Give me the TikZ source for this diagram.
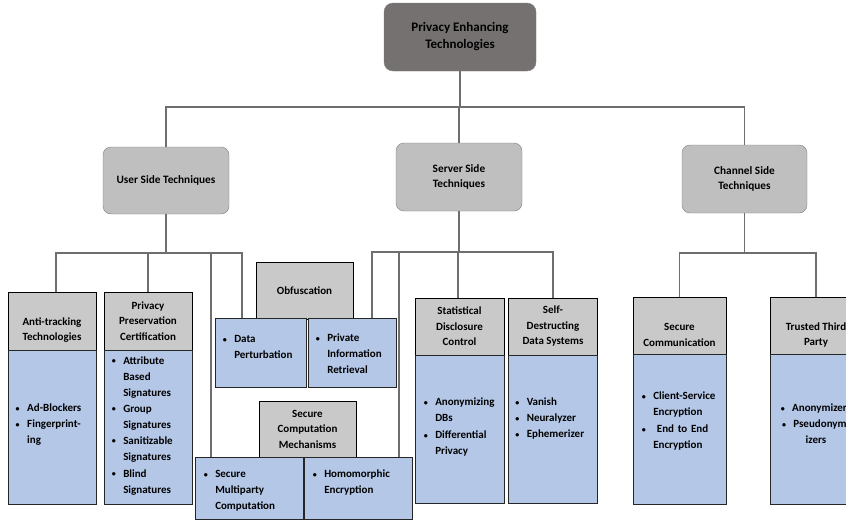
\documentclass[tikz,border=0pt]{standalone}
\usepackage{fontspec}
\usepackage{xcolor}
\setmainfont{Carlito}

\definecolor{lineg}{HTML}{6E6E6E}
\definecolor{rootg}{HTML}{767171}
\definecolor{sideg}{HTML}{BFBFBF}
\definecolor{sideedge}{HTML}{7F7F7F}
\definecolor{headg}{HTML}{C9C9C9}
\definecolor{bodyb}{HTML}{B4C7E7}

% bullet item, the text hangs beside the bullet
\newlength\bulw
\setlength\bulw{11.5pt}
\newcommand\bul{\raisebox{0.4pt}{\fontsize{8}{8}\selectfont\textbullet}}
\newcommand\itm[1]{\par\lineskip=0pt\noindent\makebox[\bulw][l]{\strut\bul}%
    \parbox[t]{\dimexpr\linewidth-\bulw\relax}{\strut#1\strut}}

\begin{document}
\begin{tikzpicture}[x=1pt,y=-1pt,
    conn/.style={draw=lineg, line width=1.6pt},
    petbox/.style={draw=sideedge, fill=rootg, rounded corners=9pt, align=center,
        minimum width=152pt, minimum height=68pt, font=\bfseries\fontsize{13}{17}\selectfont},
    sidebox/.style={draw=sideedge, fill=sideg, rounded corners=8pt, align=center,
        minimum width=126pt, minimum height=67pt, font=\bfseries\fontsize{11.3}{15.5}\selectfont},
    headbox/.style={draw=black, fill=headg, line width=0.9pt, align=center, inner sep=0pt,
        font=\bfseries\fontsize{11}{15.5}\selectfont},
    bodybox/.style={draw=black!85, fill=bodyb, line width=0.9pt, inner sep=0pt},
    bodytxt/.style={inner sep=0pt, align=left, anchor=north west, font=\bfseries\fontsize{11}{16}\selectfont}]
    \useasboundingbox (0,0) rectangle (846,522);

    % top levels
    \node[petbox] (pet) at (460,37) {Privacy Enhancing\\Technologies};
    \node[sidebox] (usr) at (166,180.5) {User Side Techniques};
    \node[sidebox, minimum height=68pt] (srv) at (459,177) {Server Side\\Techniques};
    \node[sidebox, minimum height=68pt, minimum width=125pt] (chn) at (744.5,179) {Channel Side\\Techniques};

    % user side
    \node[headbox, minimum width=88pt, minimum height=58pt] (atk) at (52,321) {\strut\\Anti-tracking\\Technologies};
    \node[bodybox, minimum width=88pt, minimum height=154pt] (atkb) at (52,427) {};
    \node[bodytxt, text width=76pt] (atkt) at ([xshift=8pt,yshift=-46pt]atkb.north west)
        {\itm{Ad-Blockers}\itm{Fingerprint-\\ing}};
    \node[headbox, minimum width=88pt, minimum height=58pt] (ppc) at (148,321) {Privacy\\Preservation\\Certification};
    \node[bodybox, minimum width=88pt, minimum height=154pt] (ppcb) at (148,427) {};
    \node[bodytxt, text width=76pt] (ppct) at ([xshift=8pt,yshift=1.5pt]ppcb.north west)
        {\itm{Attribute\\Based\\Signatures}\itm{Group\\Signatures}%
         \itm{Sanitizable\\Signatures}\itm{Blind\\Signatures}};

    % mechanisms in the middle
    \node[headbox, minimum width=97pt, minimum height=57pt] (obf) at (304.5,290.5) {Obfuscation};
    \node[bodybox, minimum width=91pt, minimum height=69pt] (dp) at (260.5,352.5) {};
    \node[bodytxt, text width=79pt] (dpt) at ([xshift=8pt,yshift=-9pt]dp.north west)
        {\itm{Data\\Perturbation}};
    \node[bodybox, minimum width=88pt, minimum height=69pt] (pir) at (352,352.5) {};
    \node[bodytxt, text width=76pt] (pirt) at ([xshift=8pt,yshift=-8pt]pir.north west)
        {\itm{Private\\Information\\Retrieval}};
    \node[headbox, minimum width=97pt, minimum height=56pt] (scm) at (307.5,429) {Secure\\Computation\\Mechanisms};
    \node[bodybox, minimum width=108pt, minimum height=62pt] (smpc) at (249,488) {};
    \node[bodytxt, text width=95pt] (smpct) at ([xshift=9pt,yshift=-5pt]smpc.north west)
        {\itm{Secure\\Multiparty\\Computation}};
    \node[bodybox, minimum width=108pt, minimum height=62pt] (hom) at (358,488) {};
    \node[bodytxt, text width=95pt] (homt) at ([xshift=9pt,yshift=-5pt]hom.north west)
        {\itm{Homomorphic\\Encryption}};

    % server side
    \node[headbox, minimum width=89pt, minimum height=57pt] (sdc) at (459.5,326.5) {Statistical\\Disclosure\\Control};
    \node[bodybox, minimum width=89pt, minimum height=148pt] (sdcb) at (459.5,429) {};
    \node[bodytxt, text width=78pt] (sdct) at ([xshift=9pt,yshift=-35pt]sdcb.north west)
        {\itm{Anonymizing\\DBs}\itm{Differential\\Privacy}};
    \node[headbox, minimum width=89pt, minimum height=57pt] (sds) at (553,326.5) {Self-\\Destructing\\Data Systems};
    \node[bodybox, minimum width=89pt, minimum height=148pt] (sdsb) at (553,429) {};
    \node[bodytxt, text width=80pt] (sdst) at ([xshift=7pt,yshift=-35pt]sdsb.north west)
        {\itm{Vanish}\itm{Neuralyzer}\itm{Ephemerizer}};

    % channel side
    \node[headbox, minimum width=93pt, minimum height=57pt] (sec) at (679.5,325.5) {\strut\\Secure\\Communication};
    \node[bodybox, minimum width=93pt, minimum height=150pt] (secb) at (679.5,429) {};
    \node[bodytxt, text width=82pt] (sect) at ([xshift=9pt,yshift=-30pt]secb.north west)
        {\itm{Client-Service\\Encryption}\itm{\ End to End\\Encryption}};
    \node[headbox, minimum width=92pt, minimum height=57pt] (ttp) at (816,325.5) {\strut\\Trusted Third\\Party};
    \node[bodybox, minimum width=92pt, minimum height=150pt] (ttpb) at (816,429) {};
    \node[bodytxt, text width=80pt, align=center, anchor=north] (ttpt) at ([yshift=-50pt]ttpb.north)
        {\bul\ \ Anonymizers\\ \bul\ \ Pseudonym-\\izers};

    % connectors
    \coordinate (busA) at (0,107);
    \coordinate (busU) at (0,253);
    \coordinate (busS) at (0,252);
    \coordinate (busC) at (0,253);
    \draw[conn] (pet.south) -- (pet.south |- busA);
    \draw[conn] (usr.north) |- (chn.north |- busA) -- (chn.north);
    \draw[conn] (srv.north |- busA) -- (srv.north);

    \draw[conn] (usr.south) -- (usr.south |- busU);
    \draw[conn] ([xshift=4pt]atk.north) |- ([xshift=-18.5pt]dp.north |- busU) -- ([xshift=-18.5pt]dp.north);
    \draw[conn] (ppc.north |- busU) -- (ppc.north);
    \draw[conn] ([xshift=-38pt]smpc.north |- busU) -- ([xshift=-38pt]smpc.north);

    \draw[conn] (srv.south) -- (srv.south |- busS);
    \draw[conn] ([xshift=20pt]pir.north) |- (sds.north |- busS) -- (sds.north);
    \draw[conn] ([xshift=41pt]hom.north |- busS) -- ([xshift=41pt]hom.north);
    \draw[conn] ([xshift=-1.5pt]sdc.north |- busS) -- ([xshift=-1.5pt]sdc.north);

    \draw[conn] (chn.south) -- (chn.south |- busC);
    \draw[conn] (sec.north) |- (ttp.north |- busC) -- (ttp.north);
\end{tikzpicture}
\end{document}
